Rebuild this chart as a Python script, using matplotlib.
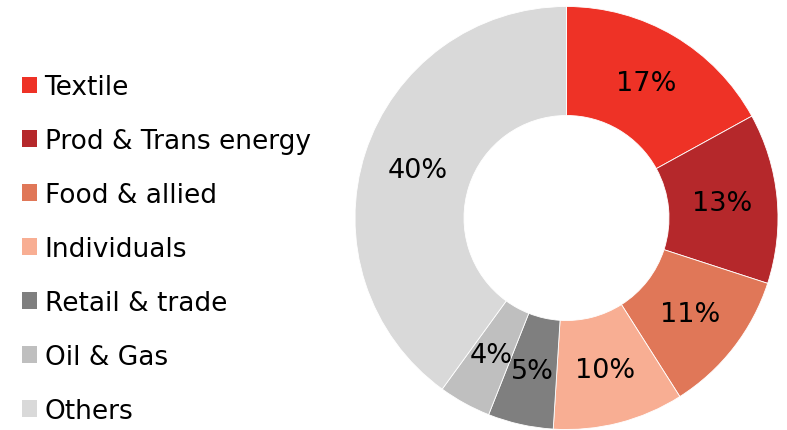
import matplotlib
matplotlib.use('Agg')
import matplotlib.pyplot as plt

categories = ["Textile", "Prod & Trans energy", "Food & allied", "Individuals",
              "Retail & trade", "Oil & Gas", "Others"]
shares = [17, 13, 11, 10, 5, 4, 40]
colors = ["#EE3226", "#B5282B", "#E07758", "#F8AE93", "#7F7F7F", "#BFBFBF", "#D9D9D9"]

fig = plt.figure(figsize=(7.87, 4.31), dpi=100)
ax = fig.add_axes([0, 0, 1, 1])

wedges, texts = ax.pie(
    shares,
    colors=colors,
    startangle=90,
    counterclock=False,
    center=(566.5, 212),
    radius=211.5,
    labels=[f"{v}%" for v in shares],
    labeldistance=0.74,
    wedgeprops=dict(width=109, edgecolor='white', linewidth=0.6),
    textprops=dict(fontsize=19.5, color='black', ha='center', va='center'),
    frame=True,
)
ax.set_xlim(0, 787)
ax.set_ylim(0, 431)
ax.set_aspect('equal')
ax.axis('off')

leg = ax.legend(wedges, categories, loc='upper left', bbox_to_anchor=(0.014, 0.85),
                frameon=False, fontsize=19, handlelength=0.6, handleheight=0.6,
                handletextpad=0.27, labelspacing=1.06, borderaxespad=0)
for h in leg.legend_handles:
    h.set_edgecolor('none')

fig.savefig("out.png", dpi=100)
